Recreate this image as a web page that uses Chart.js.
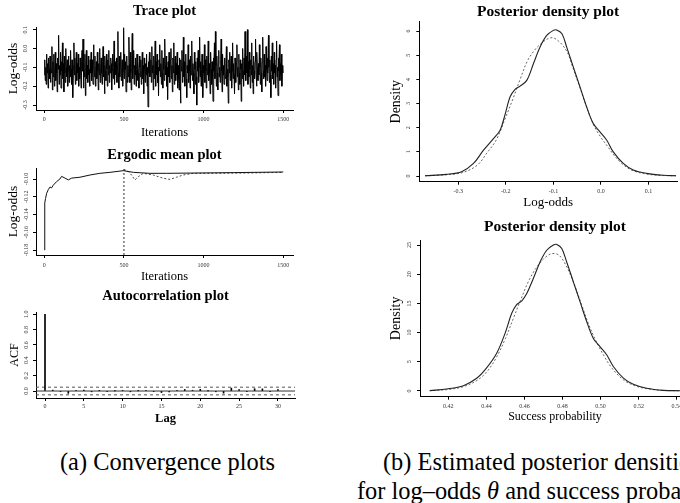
<!DOCTYPE html>
<html><head><meta charset="utf-8">
<script src="https://cdn.jsdelivr.net/npm/chart.js@4.4.1/dist/chart.umd.min.js"></script>
<style>
html,body{margin:0;padding:0;background:#fff;width:680px;height:503px;overflow:hidden;position:relative;}
canvas{position:absolute;}
.cap{position:absolute;font-family:'Liberation Serif',serif;font-size:24.4px;color:#000;white-space:nowrap;line-height:1;}
</style></head><body>
<canvas id="c1" width="330" height="141" style="left:0;top:0"></canvas>
<canvas id="c2" width="330" height="145" style="left:0;top:140px"></canvas>
<canvas id="c3" width="330" height="147" style="left:0;top:280px"></canvas>
<canvas id="c4" width="336" height="211" style="left:385px;top:0"></canvas>
<canvas id="c5" width="336" height="213" style="left:385px;top:212px"></canvas>
<div class="cap" style="left:60px;top:450px">(a) Convergence plots</div>
<div class="cap" style="left:383px;top:450px">(b) Estimated posterior densities</div>
<div class="cap" style="left:357px;top:479px">for log–odds <i>θ</i> and success probability</div>
<script>
// ---------- data ----------
const traceThin = 3;
const traceValues = [
-0.14,-0.06,-0.17,-0.10,-0.19,-0.03,-0.13,-0.08,-0.21,-0.05,
-0.11,-0.16,-0.04,-0.18,-0.09,-0.13,0.01,-0.22,-0.07,-0.15,
-0.03,-0.20,-0.10,-0.02,-0.17,-0.08,-0.13,-0.23,-0.05,-0.11,
0.07,-0.19,-0.09,-0.14,-0.02,-0.21,-0.07,-0.12,0.03,-0.16,
-0.08,-0.23,-0.04,-0.13,-0.18,0.00,-0.10,-0.15,-0.06,-0.20,
-0.12,-0.04,-0.18,-0.09,-0.15,-0.01,-0.11,-0.19,-0.06,-0.14,
-0.26,-0.09,0.03,-0.14,-0.05,-0.19,-0.11,-0.02,-0.17,-0.08,
-0.13,-0.03,-0.20,-0.10,-0.16,-0.05,-0.12,-0.21,-0.07,-0.01,
-0.12,0.05,-0.21,-0.07,-0.15,-0.03,-0.25,-0.10,-0.01,-0.16,
-0.09,-0.18,-0.04,-0.14,-0.11,-0.20,-0.06,-0.13,-0.02,-0.17,
-0.06,-0.13,-0.19,0.02,-0.09,-0.15,-0.04,-0.20,-0.11,-0.07,
-0.16,-0.02,-0.12,-0.22,-0.08,-0.14,0.00,-0.18,-0.10,-0.05,
-0.13,-0.19,-0.07,0.01,-0.15,-0.09,-0.24,-0.04,-0.12,-0.17,
-0.03,-0.11,-0.20,-0.06,-0.14,-0.01,-0.18,-0.09,-0.13,-0.05,
-0.08,-0.22,-0.12,-0.03,-0.16,-0.10,0.04,-0.19,-0.07,-0.14,
-0.11,-0.05,-0.18,-0.09,0.09,-0.13,-0.21,-0.04,-0.15,-0.08,
-0.02,-0.17,-0.10,-0.06,-0.20,-0.12,0.11,-0.16,-0.03,-0.11,
-0.07,-0.23,-0.13,-0.04,-0.18,-0.09,-0.15,0.06,-0.08,-0.18,
-0.02,-0.13,-0.22,-0.06,0.08,-0.16,-0.10,-0.01,-0.19,-0.09,
-0.14,-0.05,-0.20,-0.11,-0.03,-0.17,-0.07,-0.13,-0.21,-0.04,
-0.10,-0.15,-0.06,-0.19,-0.12,-0.02,-0.16,-0.09,-0.24,-0.05,
-0.11,-0.18,-0.08,-0.14,-0.03,-0.20,-0.10,-0.31,-0.07,-0.13,
-0.02,-0.15,-0.12,-0.06,-0.18,0.01,-0.13,-0.09,-0.22,-0.04,
-0.16,-0.11,0.04,-0.20,-0.07,-0.14,-0.03,-0.18,-0.10,-0.25,
-0.06,-0.12,0.02,-0.15,-0.08,-0.19,-0.01,-0.13,-0.21,-0.05,
-0.11,-0.17,0.05,-0.09,-0.14,-0.04,-0.20,-0.10,-0.27,-0.07,
-0.15,-0.02,-0.12,-0.18,-0.06,0.00,-0.16,-0.09,-0.23,-0.05,
-0.13,0.03,-0.19,-0.11,-0.04,-0.17,-0.08,-0.14,-0.02,-0.21,
-0.09,-0.16,-0.22,-0.05,-0.13,-0.29,-0.06,-0.12,-0.01,-0.18,
-0.10,0.06,-0.15,-0.07,-0.20,-0.11,-0.03,-0.16,-0.26,-0.09,
-0.13,0.02,-0.18,-0.06,-0.12,-0.21,-0.04,-0.14,-0.10,0.04,
-0.17,-0.08,-0.13,-0.24,-0.02,-0.11,-0.19,-0.07,-0.15,-0.30,
-0.05,-0.12,-0.01,-0.18,-0.10,0.06,-0.15,-0.07,-0.20,-0.11,
-0.03,-0.16,-0.26,-0.09,-0.13,0.02,-0.18,-0.06,-0.12,-0.21,
-0.04,-0.14,-0.10,0.04,-0.17,-0.08,-0.13,-0.24,-0.02,-0.11,
-0.19,-0.07,-0.15,-0.28,-0.05,-0.12,0.03,-0.16,0.09,-0.09,
-0.20,-0.04,-0.13,-0.22,-0.08,-0.01,-0.15,-0.10,-0.18,-0.06,
0.05,-0.12,-0.23,-0.03,-0.14,-0.09,-0.19,-0.05,-0.11,-0.16,
-0.08,0.01,-0.20,-0.11,-0.15,-0.29,-0.06,-0.13,-0.02,-0.17,
-0.10,-0.04,-0.21,-0.12,0.03,-0.16,-0.08,-0.14,-0.24,-0.05,
-0.12,-0.18,-0.07,0.02,-0.15,-0.10,-0.22,-0.03,-0.13,-0.19,
-0.06,-0.11,-0.28,-0.08,-0.16,0.00,-0.12,-0.20,-0.05,-0.14,
0.09,-0.10,-0.17,-0.04,-0.13,0.10,-0.19,-0.07,-0.15,-0.02,
-0.11,-0.21,-0.06,-0.14,0.03,-0.18,-0.09,-0.24,-0.04,-0.12,
-0.16,-0.07,0.05,-0.13,-0.20,-0.02,-0.11,-0.17,-0.08,-0.14,
0.02,-0.10,-0.19,-0.05,-0.13,-0.23,-0.07,0.06,-0.12,-0.16,
-0.03,-0.15,-0.09,-0.20,0.01,-0.11,-0.17,-0.05,-0.13,0.07,
-0.10,-0.18,-0.06,-0.14,-0.26,-0.04,-0.12,0.03,-0.16,-0.08,
-0.19,-0.02,-0.13,-0.09,-0.21,-0.06,0.04,-0.15,-0.10,-0.25,
-0.05,-0.12,0.02,-0.17,-0.08,-0.14,-0.03,-0.20,-0.09,-0.13];
const iterTicks = [0, 500, 1000, 1500];
const iterTickLabels = ["0", "500", "1000", "1500"];
const traceYTicks = [0.1, 0.0, -0.1, -0.2, -0.3];
const traceYTickLabels = ["0.1", "0.0", "-0.1", "-0.2", "-0.3"];

const burnIn = 500;
const ergIter = [1,2,4,8,15,25,36,46,56,77,98,109,130,151,172,224,287,349,412,496,559,663,768,977,1186,1500];
const ergMean = [-0.180,-0.150,-0.127,-0.122,-0.116,-0.112,-0.109,-0.110,-0.107,-0.103,-0.100,-0.097,-0.099,-0.101,-0.099,-0.098,-0.0955,-0.0936,-0.0925,-0.0906,-0.0925,-0.0936,-0.0936,-0.0932,-0.0928,-0.0921];
const ergIter2 = [500,527,548,569,590,621,684,747,789,830,872,935,1082,1291,1500];
const ergMean2 = [-0.0891,-0.0917,-0.0955,-0.1011,-0.0974,-0.0936,-0.0955,-0.0992,-0.1004,-0.0980,-0.0955,-0.0936,-0.0936,-0.0932,-0.0925];
const ergYTicks = [-0.10, -0.12, -0.14, -0.16, -0.18];
const ergYTickLabels = ["-0.10", "-0.12", "-0.14", "-0.16", "-0.18"];

const acfLag = [0,1,2,3,4,5,6,7,8,9,10,11,12,13,14,15,16,17,18,19,20,21,22,23,24,25,26,27,28,29,30];
const acfValue = [1.0,0.012,-0.008,-0.03,0.004,0.012,-0.01,0.003,-0.008,0.002,0.004,-0.01,0.003,0.008,-0.008,-0.02,-0.012,0.003,0.02,0.01,0.022,0.002,-0.01,-0.028,0.038,0.02,-0.01,0.03,0.028,-0.008,0.02];
const acfBand = 0.05;
const lagTicks = [0,5,10,15,20,25,30];
const lagTickLabels = ["0","5","10","15","20","25","30"];
const acfYTicks = [0.0,0.2,0.4,0.6,0.8,1.0];
const acfYTickLabels = ["0.0","0.2","0.4","0.6","0.8","1.0"];

const logoddsX = [-0.37,-0.325,-0.293,-0.268,-0.247,-0.226,-0.212,-0.202,-0.191,-0.181,-0.170,-0.156,-0.142,-0.128,-0.114,-0.100,-0.093,-0.082,-0.072,-0.058,-0.044,-0.030,-0.016,-0.002,0.012,0.026,0.047,0.068,0.096,0.132,0.158];
const logoddsDensity = [0.01,0.07,0.18,0.52,1.07,1.55,1.90,2.52,3.28,3.58,3.72,3.96,4.65,5.34,5.82,6.03,6.05,5.89,5.34,4.51,3.69,2.86,2.17,1.83,1.49,1.00,0.52,0.25,0.11,0.03,0.01];
const logoddsX2 = [-0.37,-0.32,-0.29,-0.26,-0.24,-0.22,-0.20,-0.185,-0.17,-0.155,-0.14,-0.125,-0.11,-0.10,-0.09,-0.08,-0.07,-0.06,-0.045,-0.03,-0.015,0.0,0.015,0.03,0.05,0.07,0.10,0.13,0.158];
const logoddsDensity2 = [0.01,0.06,0.15,0.45,0.95,1.5,2.45,3.2,4.0,4.75,5.2,5.5,5.7,5.72,5.6,5.4,5.1,4.55,3.7,2.85,2.1,1.6,1.2,0.8,0.42,0.2,0.07,0.02,0.01];
const logoddsXTicks = [-0.3,-0.2,-0.1,0.0,0.1];
const logoddsXTickLabels = ["-0.3","-0.2","-0.1","0.0","0.1"];
const logoddsYTicks = [0,1,2,3,4,5,6];
const logoddsYTickLabels = ["0","1","2","3","4","5","6"];

const probX = [0.4104,0.4191,0.4279,0.4349,0.4400,0.4454,0.4498,0.4533,0.4559,0.4585,0.4612,0.4647,0.4682,0.4717,0.4752,0.4770,0.4796,0.4822,0.4857,0.4892,0.4927,0.4962,0.4997,0.5032,0.5067,0.5120,0.5172,0.5242,0.5330,0.5420];
const probDensity = [0.06,0.34,0.91,2.17,3.9,6.45,9.87,13.3,14.8,15.4,16.7,19.3,22.1,24.1,25.0,25.1,24.4,22.1,18.7,15.3,11.9,9.0,7.6,6.2,4.2,2.2,1.14,0.46,0.11,0.04];
const probX2 = [0.410,0.420,0.428,0.435,0.440,0.445,0.450,0.454,0.458,0.462,0.466,0.470,0.474,0.478,0.482,0.486,0.490,0.494,0.498,0.502,0.506,0.512,0.518,0.525,0.533,0.542];
const probDensity2 = [0.05,0.25,0.75,1.8,3.2,5.6,9.0,12.3,15.6,18.7,21.0,22.6,23.5,23.3,21.4,18.4,14.8,11.2,8.3,5.9,3.9,1.9,0.9,0.35,0.1,0.03];
const probXTicks = [0.42,0.44,0.46,0.48,0.50,0.52,0.54];
const probXTickLabels = ["0.42","0.44","0.46","0.48","0.50","0.52","0.54"];
const probYTicks = [0,5,10,15,20,25];
const probYTickLabels = ["0","5","10","15","20","25"];

// ---------- helpers ----------
const SERIF = "'Liberation Serif', 'Times New Roman', serif";
const pts = (xs, ys) => xs.map((x, i) => ({x: x, y: ys[i]}));

function scale(o) {
  const horiz = o.axis === 'x';
  return {
    type: 'linear', position: horiz ? 'bottom' : 'left', min: o.min, max: o.max, offset: false,
    border: {display: true, color: '#000', width: 1},
    grid: {display: true, drawOnChartArea: false, drawTicks: true, tickLength: 3, tickColor: '#000', tickWidth: 1, offset: false},
    ticks: {font: {family: SERIF, size: 6}, color: '#333', padding: o.pad, autoSkip: false, includeBounds: false,
      minRotation: horiz ? 0 : 90, maxRotation: horiz ? 0 : 90, crossAlign: horiz ? 'near' : 'center',
      callback: (v, i) => o.labels[i]},
    afterBuildTicks: s => { s.ticks = o.vals.map(v => ({value: v})); },
    afterFit: s => { if (horiz) s.height = o.size; else s.width = o.size; },
    title: {display: true, text: o.title, color: '#000',
      font: {family: SERIF, size: o.tsize, weight: o.tweight || 'normal'}, padding: o.tpad}
  };
}

function opts(o) {
  return {
    responsive: false, animation: false, devicePixelRatio: 1,
    layout: {padding: {left: 0, top: 0, right: o.padR, bottom: 0}},
    plugins: {
      legend: {display: false}, tooltip: {enabled: false},
      title: {display: true, fullSize: false, text: o.title, color: '#000',
        font: {family: SERIF, size: o.tsize, weight: 'bold'}, padding: {top: o.tpt, bottom: o.tpb}}
    },
    elements: {point: {radius: 0}},
    scales: {x: o.x, y: o.y}
  };
}

// ---------- 1. trace plot ----------
const traceX = {min: -52, max: 1561};
new Chart(document.getElementById('c1'), {
  type: 'line',
  data: {datasets: [{data: traceValues.map((v, i) => ({x: i * traceThin, y: v})), borderColor: '#000', borderWidth: 1, tension: 0}]},
  options: opts({padR: 37, title: 'Trace plot', tsize: 14.5, tpt: 3, tpb: 6.6,
    x: scale({axis: 'x', min: traceX.min, max: traceX.max, vals: iterTicks, labels: iterTickLabels, size: 31, pad: 2.4,
      title: 'Iterations', tsize: 12.5, tpad: {top: 0, bottom: 0.5}}),
    y: scale({axis: 'y', min: -0.326, max: 0.114, vals: traceYTicks, labels: traceYTickLabels, size: 36, pad: 3.2,
      title: 'Log-odds', tsize: 13.5, tpad: {top: 4.9, bottom: 0}})})
});

// ---------- 2. ergodic mean plot ----------
const ergY = {min: -0.1856, max: -0.0876};
new Chart(document.getElementById('c2'), {
  type: 'line',
  data: {datasets: [
    {data: pts(ergIter, ergMean), borderColor: '#111', borderWidth: 1, tension: 0},
    {data: pts(ergIter2, ergMean2), borderColor: '#444', borderWidth: 1, borderDash: [2, 2], tension: 0},
    {data: [{x: burnIn, y: ergY.min}, {x: burnIn, y: ergY.max}], borderColor: '#333', borderWidth: 1, borderDash: [2, 2]}
  ]},
  options: opts({padR: 37, title: 'Ergodic mean plot', tsize: 14.5, tpt: 7, tpb: 3.6,
    x: scale({axis: 'x', min: traceX.min, max: traceX.max, vals: iterTicks, labels: iterTickLabels, size: 30, pad: 3.4,
      title: 'Iterations', tsize: 12.5, tpad: {top: 0, bottom: 0.5}}),
    y: scale({axis: 'y', min: ergY.min, max: ergY.max, vals: ergYTicks, labels: ergYTickLabels, size: 36, pad: 0,
      title: 'Log-odds', tsize: 13.5, tpad: {top: 5.2, bottom: 0}})})
});

// ---------- 3. autocorrelation plot ----------
const lagX = {min: -1.16, max: 32.2};
new Chart(document.getElementById('c3'), {
  type: 'bar',
  data: {datasets: [
    {type: 'bar', data: pts(acfLag, acfValue), backgroundColor: '#000', barThickness: 1},
    {type: 'line', data: [{x: lagX.min, y: 0}, {x: lagX.max, y: 0}], borderColor: '#333', borderWidth: 1},
    {type: 'line', data: [{x: lagX.min, y: acfBand}, {x: lagX.max, y: acfBand}], borderColor: '#555', borderWidth: 1, borderDash: [3, 3]},
    {type: 'line', data: [{x: lagX.min, y: -acfBand}, {x: lagX.max, y: -acfBand}], borderColor: '#555', borderWidth: 1, borderDash: [3, 3]}
  ]},
  options: opts({padR: 35, title: 'Autocorrelation plot', tsize: 14.5, tpt: 8, tpb: 6.6,
    x: scale({axis: 'x', min: lagX.min, max: lagX.max, vals: lagTicks, labels: lagTickLabels, size: 29, pad: 2.1,
      title: 'Lag', tsize: 12.5, tweight: 'bold', tpad: {top: 0, bottom: 0.5}}),
    y: scale({axis: 'y', min: -0.091, max: 1.03, vals: acfYTicks, labels: acfYTickLabels, size: 36, pad: 2.5,
      title: 'ACF', tsize: 12, tpad: {top: 7.8, bottom: 0}})})
});

// ---------- 4. posterior density (log-odds) ----------
new Chart(document.getElementById('c4'), {
  type: 'line',
  data: {datasets: [
    {data: pts(logoddsX, logoddsDensity), borderColor: '#222', borderWidth: 1.1, tension: 0.35},
    {data: pts(logoddsX2, logoddsDensity2), borderColor: '#666', borderWidth: 1, borderDash: [2, 2], tension: 0.35}
  ]},
  options: opts({padR: 44, title: 'Posterior density plot', tsize: 15.5, tpt: 2.4, tpb: 0.7,
    x: scale({axis: 'x', min: -0.382, max: 0.16, vals: logoddsXTicks, labels: logoddsXTickLabels, size: 29.3, pad: 3.4,
      title: 'Log-odds', tsize: 13, tpad: {top: 0, bottom: 0.7}}),
    y: scale({axis: 'y', min: -0.235, max: 6.39, vals: logoddsYTicks, labels: logoddsYTickLabels, size: 34.3, pad: 6.8,
      title: 'Density', tsize: 14, tpad: {top: 3.3, bottom: 0}})})
});

// ---------- 5. posterior density (success probability) ----------
new Chart(document.getElementById('c5'), {
  type: 'line',
  data: {datasets: [
    {data: pts(probX, probDensity), borderColor: '#222', borderWidth: 1.1, tension: 0.35},
    {data: pts(probX2, probDensity2), borderColor: '#666', borderWidth: 1, borderDash: [2, 2], tension: 0.35}
  ]},
  options: opts({padR: 31, title: 'Posterior density plot', tsize: 15.5, tpt: 5.4, tpb: 4,
    x: scale({axis: 'x', min: 0.4051, max: 0.547, vals: probXTicks, labels: probXTickLabels, size: 28.3, pad: 3.4,
      title: 'Success probability', tsize: 12, tpad: {top: 0, bottom: 0.8}}),
    y: scale({axis: 'y', min: -0.98, max: 25.86, vals: probYTicks, labels: probYTickLabels, size: 35, pad: 4.7,
      title: 'Density', tsize: 14, tpad: {top: 3.3, bottom: 0}})})
});
</script>
</body></html>
